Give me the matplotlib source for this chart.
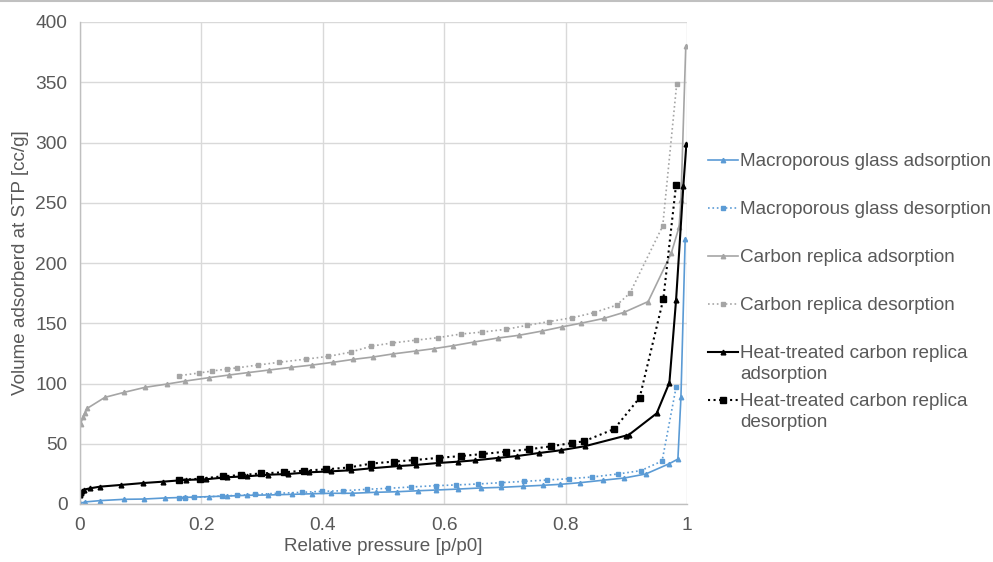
import matplotlib
matplotlib.use('Agg')
import matplotlib.pyplot as plt
from matplotlib.lines import Line2D

plt.rcParams['font.family'] = ['Liberation Sans', 'DejaVu Sans']

# macroporous glass
mg_ads_x = [0, 0.008, 0.033, 0.073, 0.105, 0.14, 0.173, 0.212, 0.242, 0.275, 0.31, 0.349, 0.382,
            0.413, 0.448, 0.487, 0.523, 0.557, 0.587, 0.623, 0.66, 0.693, 0.729, 0.762, 0.791,
            0.824, 0.861, 0.897, 0.932, 0.971, 0.985, 0.99, 0.997]
mg_ads_y = [0.5, 1.7, 2.8, 3.9, 4.1, 5.0, 5.5, 6.1, 6.6, 7.2, 7.5, 8.0, 8.5,
            8.9, 8.9, 9.7, 10.2, 11.0, 11.6, 12.4, 13.3, 13.8, 14.7, 15.5, 16.3,
            17.7, 19.7, 21.6, 24.9, 33.5, 37.3, 88.5, 220]
mg_des_x = [0.982, 0.959, 0.924, 0.886, 0.844, 0.806, 0.77, 0.732, 0.694, 0.655, 0.619, 0.586,
            0.545, 0.507, 0.473, 0.433, 0.399, 0.366, 0.326, 0.289, 0.259, 0.234, 0.187, 0.173, 0.163]
mg_des_y = [96.8, 35.7, 27.7, 24.9, 22.4, 21.0, 19.9, 18.8, 17.7, 16.6, 15.8, 15.2,
            14.1, 13.0, 12.2, 11.0, 10.5, 9.7, 8.9, 8.0, 7.2, 6.6, 5.5, 5.0, 4.7]

# carbon replica
cr_ads_x = [0.001, 0.005, 0.008, 0.012, 0.041, 0.073, 0.107, 0.144, 0.173, 0.212, 0.245, 0.276,
            0.312, 0.348, 0.382, 0.417, 0.45, 0.483, 0.515, 0.554, 0.584, 0.615, 0.649, 0.688,
            0.723, 0.761, 0.794, 0.825, 0.863, 0.896, 0.936, 0.974, 0.987, 0.99, 0.998]
cr_ads_y = [66.4, 72.5, 75.8, 79.4, 88.5, 92.7, 96.8, 99.6, 102, 104.8, 107, 109,
            111.2, 113.4, 115.3, 117.6, 120, 122, 124.5, 127, 129, 131.4, 134.4, 137.7,
            140, 143.5, 147, 150, 154, 159, 168, 208, 230, 252, 380]
cr_des_x = [0.983, 0.96, 0.906, 0.884, 0.847, 0.811, 0.772, 0.737, 0.702, 0.663, 0.627, 0.589,
            0.554, 0.514, 0.48, 0.446, 0.409, 0.373, 0.328, 0.293, 0.259, 0.242, 0.218, 0.196, 0.163]
cr_des_y = [348.5, 230.7, 175, 165, 158.8, 154.6, 151.3, 148.3, 145, 142.7, 141, 138,
            136, 133.6, 131, 126, 122.5, 120.3, 117.6, 115.3, 113, 112, 110.4, 108.7, 106.5]

# heat-treated carbon replica
ht_ads_x = [0.0005, 0.002, 0.004, 0.007, 0.0165, 0.033, 0.067, 0.104, 0.136, 0.174, 0.207, 0.242,
            0.275, 0.31, 0.343, 0.378, 0.413, 0.446, 0.479, 0.525, 0.553, 0.589, 0.622, 0.65,
            0.688, 0.72, 0.756, 0.792, 0.832, 0.899, 0.904, 0.95, 0.971, 0.982, 0.994, 0.999]
ht_ads_y = [7.5, 9.5, 11, 12, 13, 14.4, 15.8, 17.4, 18.5, 20, 20.5, 22.2,
            23, 24.3, 24.9, 26.3, 27.1, 28, 29.6, 31.5, 32.4, 34, 35.1, 36.2,
            38.2, 39.8, 42.3, 44.6, 48, 56.7, 57.3, 75.2, 100.7, 169.3, 264, 298.8]
ht_des_x = [0.982, 0.961, 0.922, 0.88, 0.83, 0.81, 0.776, 0.74, 0.701, 0.663, 0.628, 0.591,
            0.551, 0.517, 0.479, 0.443, 0.406, 0.369, 0.336, 0.299, 0.265, 0.235, 0.198, 0.163]
ht_des_y = [265, 170, 88.2, 62.2, 52, 50.6, 47.9, 45.4, 43.4, 41.5, 39.8, 38.3,
            36.5, 35.2, 33.5, 30.3, 28.8, 27.7, 26.3, 25.4, 24, 23, 21, 20]

labels = ['Macroporous glass adsorption', 'Macroporous glass desorption',
          'Carbon replica adsorption', 'Carbon replica desorption',
          'Heat-treated carbon replica\nadsorption', 'Heat-treated carbon replica\ndesorption']

blue = '#5B9BD5'
grey = '#A5A5A5'
black = '#000000'
txt = '#595959'

fig = plt.figure(figsize=(9.93, 5.62), dpi=100)
ax = fig.add_axes([80/993, 58/562, 607/993, 482/562])

series = [
    (mg_ads_x, mg_ads_y, blue, '-', '^', 3.2, 1.2),
    (mg_des_x, mg_des_y, blue, ':', 's', 2.8, 1.2),
    (cr_ads_x, cr_ads_y, grey, '-', '^', 3.2, 1.2),
    (cr_des_x, cr_des_y, grey, ':', 's', 3.4, 1.2),
    (ht_ads_x, ht_ads_y, black, '-', '^', 3.4, 1.5),
    (ht_des_x, ht_des_y, black, ':', 's', 4.0, 1.5),
]
handles = []
for (xs, ys, c, ls, mk, ms, lw), lab in zip(series, labels):
    ln, = ax.plot(xs, ys, color=c, linestyle=ls, marker=mk, markersize=ms,
                  linewidth=lw, label=lab)
    handles.append(ln)

ax.set_xlim(0, 1)
ax.set_ylim(0, 400)
ax.set_xticks([0, 0.2, 0.4, 0.6, 0.8, 1])
ax.set_xticklabels(['0', '0.2', '0.4', '0.6', '0.8', '1'])
ax.set_yticks(range(0, 401, 50))
ax.grid(True, color='#D9D9D9', linewidth=1)
ax.set_axisbelow(True)
for s in ['top', 'right']:
    ax.spines[s].set_visible(False)
for s in ['left', 'bottom']:
    ax.spines[s].set_color('#BFBFBF')
    ax.spines[s].set_linewidth(1)
ax.tick_params(length=0, labelsize=13.8, colors=txt, pad=9)
ax.set_xlabel('Relative pressure [p/p0]', fontsize=13.6, color=txt, labelpad=3)
ax.set_ylabel('Volume adsorberd at STP [cc/g]', fontsize=13.6, color=txt, labelpad=5)

# legend drawn by hand so that two-line entries keep Excel's spacing
row_y = [160, 208, 256, 304, 352, 400]
for ln, lab, y in zip(handles, labels, row_y):
    yf = 1 - y / 562
    fig.add_artist(Line2D([708/993, 738/993], [yf, yf], transform=fig.transFigure,
                          color=ln.get_color(), linestyle=ln.get_linestyle(),
                          linewidth=ln.get_linewidth()))
    fig.add_artist(Line2D([723/993], [yf], transform=fig.transFigure,
                          color=ln.get_color(), marker=ln.get_marker(),
                          markersize=ln.get_markersize()))
    fig.text(740/993, yf + 7/562, lab, fontsize=13.6, color=txt, va='top', ha='left',
             linespacing=1.3)

# thin border line at the top of the picture
fig.add_artist(Line2D([0, 1], [0.998, 0.998], transform=fig.transFigure,
                      color='#C0C0C0', linewidth=1.5))

fig.savefig('out.png', dpi=100)
